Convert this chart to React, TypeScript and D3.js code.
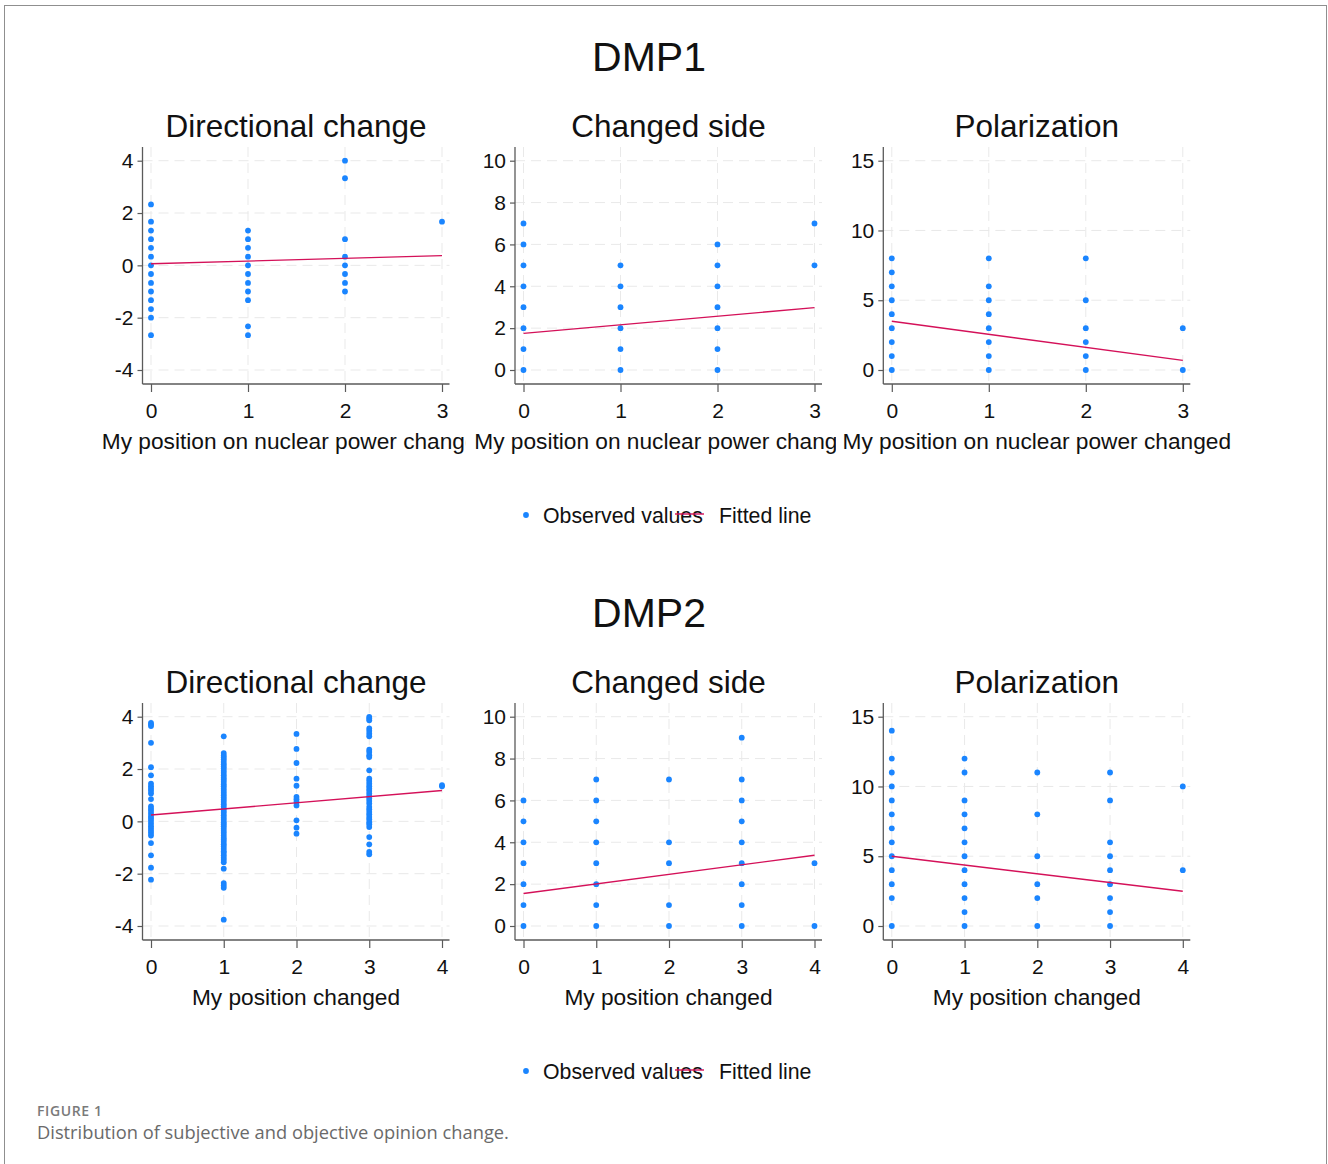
import { useEffect, useRef } from "react";
import * as d3 from "d3";

const rowTitles = ["DMP1", "DMP2"];
const panelTitles = ["Directional change", "Changed side", "Polarization"];
const xAxisTitles = ["My position on nuclear power changed", "My position changed"];
const xTicksByRow = [
    [0, 1, 2, 3],
    [0, 1, 2, 3, 4],
];
const yTicksByPanel = [
    [-4, -2, 0, 2, 4],
    [0, 2, 4, 6, 8, 10],
    [0, 5, 10, 15],
];
const legendLabels = ["Observed values", "Fitted line"];
const captionLabel = "FIGURE 1";
const captionText = "Distribution of subjective and objective opinion change.";

// observed values: one list per x category (list index = x value)
const dmp1Directional = [
    [2.33, 1.67, 1.33, 1, 0.67, 0.33, 0, -0.33, -0.67, -1, -1.33, -1.67, -2, -2.67],
    [1.33, 1, 0.67, 0.33, 0, -0.33, -0.67, -1, -1.33, -2.33, -2.67],
    [4, 3.33, 1, 0.33, 0, -0.33, -0.67, -1],
    [1.67],
];
const dmp1ChangedSide = [
    [0, 1, 2, 3, 4, 5, 6, 7],
    [0, 1, 2, 3, 4, 5],
    [0, 1, 2, 3, 4, 5, 6],
    [5, 7],
];
const dmp1Polarization = [
    [0, 1, 2, 3, 4, 5, 6, 7, 8],
    [0, 1, 2, 3, 4, 5, 6, 8],
    [0, 1, 2, 3, 5, 8],
    [0, 3],
];
const dmp2Directional = [
    [3.76, 3.7, 3.64, 3.0, 2.07, 1.76, 1.44, 1.34, 1.25, 1.16, 1.06, 0.85, 0.57, 0.48, 0.4, 0.29, 0.19, 0.1,
        0.01, -0.09, -0.19, -0.28, -0.37, -0.45, -0.54, -0.83, -1.3, -1.77, -2.23],
    [3.25, 2.61, 2.52, 2.44, 2.36, 2.27, 2.18, 2.1, 2.02, 1.93, 1.85, 1.76, 1.67, 1.59, 1.51, 1.42, 1.34, 1.25,
        1.16, 1.08, 1.0, 0.91, 0.83, 0.74, 0.65, 0.57, 0.48, 0.4, 0.32, 0.23, 0.14, 0.06, -0.03, -0.11, -0.19,
        -0.28, -0.37, -0.45, -0.54, -0.63, -0.7, -0.79, -0.88, -0.96, -1.05, -1.14, -1.21, -1.3, -1.39, -1.47,
        -1.56, -1.81, -2.36, -2.45, -2.54, -3.76],
    [3.34, 2.77, 2.23, 1.63, 1.36, 0.93, 0.84, 0.74, 0.61, 0.04, -0.24, -0.47],
    [3.99, 3.93, 3.86, 3.55, 3.46, 3.35, 3.25, 2.74, 2.65, 2.53, 2.46, 1.95, 1.63, 1.54, 1.44, 1.34, 1.25, 1.16,
        1.06, 0.96, 0.87, 0.78, 0.68, 0.55, 0.46, 0.36, 0.27, 0.17, 0.08, -0.03, -0.11, -0.22, -0.6, -0.88,
        -1.17, -1.26],
    [1.34, 1.38],
];
const dmp2ChangedSide = [
    [0, 1, 2, 3, 4, 5, 6],
    [0, 1, 2, 3, 4, 5, 6, 7],
    [0, 1, 3, 4, 7],
    [0, 1, 2, 3, 4, 5, 6, 7, 9],
    [0, 3],
];
const dmp2Polarization = [
    [0, 2, 3, 4, 5, 6, 7, 8, 9, 10, 11, 12, 14],
    [0, 1, 2, 3, 4, 5, 6, 7, 8, 9, 11, 12],
    [0, 2, 3, 5, 8, 11],
    [0, 1, 2, 3, 4, 5, 6, 9, 11],
    [4, 10],
];

// fitted line: value at first and last x
const dmp1Fitted = [
    [0.06, 0.37],
    [1.75, 2.98],
    [3.49, 0.69],
];
const dmp2Fitted = [
    [0.24, 1.18],
    [1.55, 3.38],
    [5.0, 2.49],
];

const observedByRow = [
    [dmp1Directional, dmp1ChangedSide, dmp1Polarization],
    [dmp2Directional, dmp2ChangedSide, dmp2Polarization],
];
const fittedByRow = [dmp1Fitted, dmp2Fitted];

const BLUE = "#1a85ff";
const RED = "#d41159";
const FONT = "'Liberation Sans', Arial, sans-serif";

const App = () => {
    const svgRef = useRef<SVGSVGElement>(null);
    const width = 1328;
    const height = 1164;

    useEffect(() => {
        document.body.style.margin = "0";
        const svgElement = svgRef.current;
        if (!svgElement) return;
        const svg = d3.select(svgElement);
        svg.selectAll("*").remove();

        svg.append("rect")
            .attr("width", width)
            .attr("height", height)
            .attr("fill", "#fff");

        // outer frame
        svg.append("rect")
            .attr("x", 4.5)
            .attr("y", 5.5)
            .attr("width", 1322)
            .attr("height", 1200)
            .attr("fill", "none")
            .attr("stroke", "#8f8f8f");

        const panelLeft = [142.5, 515, 883.3];
        const cellClip = [
            [97.5, 465.5],
            [467.5, 836],
            [837, 1320],
        ];
        const rowOffset = 556;

        const defs = svg.append("defs");
        rowTitles.forEach((_, r) => {
            cellClip.forEach(([x0, x1], p) => {
                defs.append("clipPath")
                    .attr("id", `cell-${r}-${p}`)
                    .append("rect")
                    .attr("x", x0)
                    .attr("y", r * rowOffset)
                    .attr("width", x1 - x0)
                    .attr("height", rowOffset);
            });
        });

        rowTitles.forEach((rowTitle, r) => {
            const dy = r * rowOffset;
            const xTicks = xTicksByRow[r];
            const xMax = xTicks[xTicks.length - 1];

            // row title
            svg.append("text")
                .attr("x", 649)
                .attr("y", 71 + dy)
                .attr("text-anchor", "middle")
                .attr("font-family", FONT)
                .attr("font-size", 41)
                .attr("fill", "#111")
                .text(rowTitle);

            panelTitles.forEach((title, p) => {
                const left = panelLeft[p];
                const right = left + 307;
                const top = 147 + dy;
                const bottom = 384 + dy;
                const yTicks = yTicksByPanel[p];

                const xScale = d3.scaleLinear().domain([0, xMax]).range([left + 8.5, left + 299.5]);
                const yScale = d3
                    .scaleLinear()
                    .domain([yTicks[0], yTicks[yTicks.length - 1]])
                    .range([370 + dy, 160.7 + dy]);

                const g = svg.append("g").attr("class", `panel-${r}-${p}`);

                // grid
                g.append("g")
                    .selectAll("line")
                    .data(yTicks)
                    .join("line")
                    .attr("x1", left)
                    .attr("x2", right)
                    .attr("y1", (d) => yScale(d))
                    .attr("y2", (d) => yScale(d))
                    .attr("stroke", "#e9e9e9")
                    .attr("stroke-dasharray", "10,6");
                g.append("g")
                    .selectAll("line")
                    .data(xTicks)
                    .join("line")
                    .attr("x1", (d) => xScale(d))
                    .attr("x2", (d) => xScale(d))
                    .attr("y1", top)
                    .attr("y2", bottom)
                    .attr("stroke", "#e9e9e9")
                    .attr("stroke-dasharray", "10,6");

                // axes (plain hyphen for negatives, as in the original)
                const yAxis = g.append("g")
                    .attr("transform", `translate(${left},0)`)
                    .call(d3.axisLeft(yScale).tickValues(yTicks).tickSize(5).tickSizeOuter(0).tickPadding(4)
                        .tickFormat((d) => String(d)));
                const xAxis = g.append("g")
                    .attr("transform", `translate(0,${bottom})`)
                    .call(d3.axisBottom(xScale).tickValues(xTicks).tickSize(8).tickSizeOuter(0).tickPadding(11)
                        .tickFormat((d) => String(d)));
                [yAxis, xAxis].forEach((ax) => {
                    ax.select(".domain").remove();
                    ax.selectAll(".tick line").attr("stroke", "#5a5a5a").attr("stroke-width", 1.2);
                    ax.selectAll(".tick text")
                        .attr("font-family", FONT)
                        .attr("font-size", 21)
                        .attr("fill", "#111");
                });

                g.append("line")
                    .attr("x1", left)
                    .attr("x2", left)
                    .attr("y1", top)
                    .attr("y2", bottom)
                    .attr("stroke", "#5a5a5a")
                    .attr("stroke-width", 1.3);
                g.append("line")
                    .attr("x1", left)
                    .attr("x2", right)
                    .attr("y1", bottom)
                    .attr("y2", bottom)
                    .attr("stroke", "#5a5a5a")
                    .attr("stroke-width", 1.3);

                // observed values
                const points = observedByRow[r][p].flatMap((vals, xi) => vals.map((v) => ({ x: xi, y: v })));
                g.append("g")
                    .selectAll("circle")
                    .data(points)
                    .join("circle")
                    .attr("cx", (d) => xScale(d.x))
                    .attr("cy", (d) => yScale(d.y))
                    .attr("r", 2.9)
                    .attr("fill", BLUE);

                // fitted line
                const [f0, f1] = fittedByRow[r][p];
                g.append("line")
                    .attr("x1", xScale(0))
                    .attr("x2", xScale(xMax))
                    .attr("y1", yScale(f0))
                    .attr("y2", yScale(f1))
                    .attr("stroke", RED)
                    .attr("stroke-width", 1.4);

                // titles
                g.append("text")
                    .attr("x", left + 153.5)
                    .attr("y", 137 + dy)
                    .attr("text-anchor", "middle")
                    .attr("font-family", FONT)
                    .attr("font-size", 31.5)
                    .attr("fill", "#111")
                    .text(title);
                g.append("text")
                    .attr("x", left + 153.5)
                    .attr("y", 449 + dy)
                    .attr("text-anchor", "middle")
                    .attr("font-family", FONT)
                    .attr("font-size", 22.7)
                    .attr("fill", "#111")
                    .attr("clip-path", `url(#cell-${r}-${p})`)
                    .text(xAxisTitles[r]);
            });

            // legend
            const lg = svg.append("g").attr("class", `legend-${r}`);
            lg.append("circle").attr("cx", 526).attr("cy", 515 + dy).attr("r", 2.9).attr("fill", BLUE);
            lg.append("text")
                .attr("x", 543)
                .attr("y", 523 + dy)
                .attr("font-family", FONT)
                .attr("font-size", 21.3)
                .attr("fill", "#111")
                .text(legendLabels[0]);
            lg.append("line")
                .attr("x1", 675)
                .attr("x2", 704)
                .attr("y1", 514 + dy)
                .attr("y2", 514 + dy)
                .attr("stroke", RED)
                .attr("stroke-width", 1.4);
            lg.append("text")
                .attr("x", 719)
                .attr("y", 523 + dy)
                .attr("font-family", FONT)
                .attr("font-size", 21.3)
                .attr("fill", "#111")
                .text(legendLabels[1]);
        });

        // caption
        svg.append("text")
            .attr("x", 37)
            .attr("y", 1116)
            .attr("font-family", "'Open Sans', sans-serif")
            .attr("font-size", 14)
            .attr("font-weight", 600)
            .attr("letter-spacing", 0.6)
            .attr("fill", "#7a7a7a")
            .text(captionLabel);
        svg.append("text")
            .attr("x", 37)
            .attr("y", 1139)
            .attr("font-family", "'Open Sans', sans-serif")
            .attr("font-size", 18.3)
            .attr("fill", "#6a6a6a")
            .text(captionText);
    }, [width, height]);

    return <svg ref={svgRef} width={width} height={height} style={{ display: "block" }}></svg>;
};

export default App;
